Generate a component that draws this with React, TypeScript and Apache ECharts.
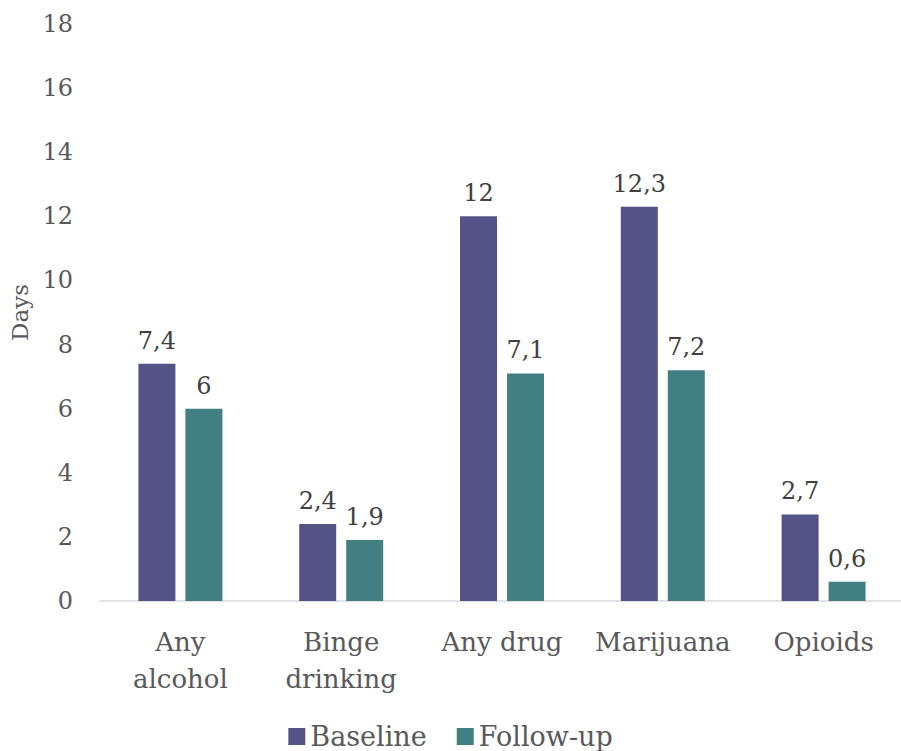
import React, { useEffect, useRef } from "react";
import * as echarts from "echarts";

const categories = ["Any\nalcohol", "Binge\ndrinking", "Any drug", "Marijuana", "Opioids"];
const baseline = [7.4, 2.4, 12, 12.3, 2.7];
const followUp = [6, 1.9, 7.1, 7.2, 0.6];
const seriesNames = ["Baseline", "Follow-up"];

const FONT = "DejaVu Serif";
const fmt = (p: any) => String(p.value).replace(".", ",");

export default function App() {
  const ref = useRef<HTMLDivElement>(null);
  useEffect(() => {
    const chart = echarts.init(ref.current!, undefined, { renderer: "svg" });
    chart.setOption({
      animation: false,
      textStyle: { fontFamily: FONT },
      grid: { left: 100, right: -3, top: 24, bottom: 150, outerBoundsMode: "none", containLabel: false },
      legend: {
        bottom: -4,
        left: "center",
        itemWidth: 17,
        itemHeight: 17,
        itemGap: 30,
        icon: "rect",
        textStyle: { fontFamily: FONT, fontSize: 27, color: "#595959" },
        data: seriesNames,
      },
      xAxis: {
        type: "category",
        data: categories,
        axisLine: { lineStyle: { color: "#d9d9d9", width: 1.5 } },
        axisTick: { show: false },
        axisLabel: { interval: 0, fontFamily: FONT, fontSize: 26, color: "#595959", margin: 22, lineHeight: 37, hideOverlap: false },
      },
      yAxis: {
        type: "value",
        min: 0,
        max: 18,
        interval: 2,
        name: "Days",
        nameLocation: "middle",
        nameGap: 68,
        nameRotate: 90,
        nameTextStyle: { fontFamily: FONT, fontSize: 23, color: "#595959" },
        splitLine: { show: false },
        axisLine: { show: false },
        axisLabel: { fontFamily: FONT, fontSize: 24, color: "#595959", margin: 27 },
      },
      series: [
        {
          name: seriesNames[0],
          type: "bar",
          data: baseline,
          barWidth: 37,
          barGap: "27%",
          itemStyle: { color: "#535388" },
          label: { show: true, position: "top", distance: 11, formatter: fmt, fontFamily: FONT, fontSize: 24, color: "#404040" },
        },
        {
          name: seriesNames[1],
          type: "bar",
          data: followUp,
          barWidth: 37,
          itemStyle: { color: "#417f82" },
          label: { show: true, position: "top", distance: 11, formatter: fmt, fontFamily: FONT, fontSize: 24, color: "#404040" },
        },
      ],
    });
    return () => chart.dispose();
  }, []);
  return <div ref={ref} style={{ width: 901, height: 751, position: "absolute", left: 0, top: 0 }} />;
}
